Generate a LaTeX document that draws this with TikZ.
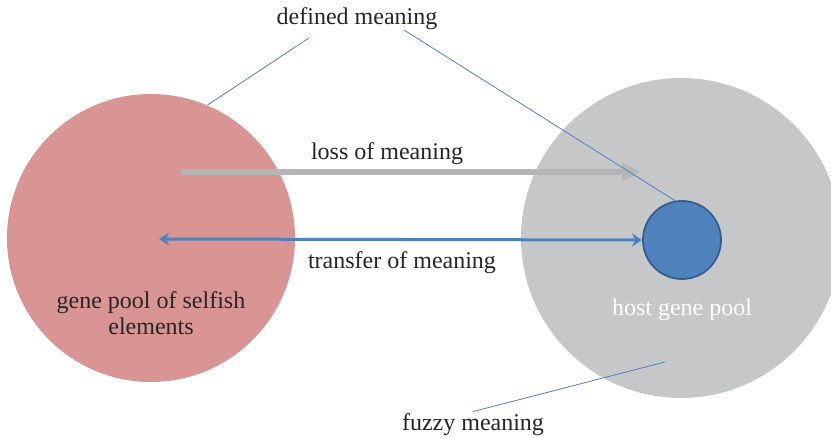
\documentclass[tikz,border=0pt]{standalone}
\usepackage{fontspec}
\setmainfont{Liberation Serif}
\usetikzlibrary{arrows.meta}
\usetikzlibrary{calc}
\definecolor{poolred}{HTML}{D99594}
\definecolor{poolgray}{HTML}{C6C7C9}
\definecolor{coreblue}{HTML}{4F81BD}
\definecolor{coreedge}{HTML}{385D8A}
\definecolor{lossgray}{HTML}{B4B5B7}
\definecolor{txt}{HTML}{262626}
\tikzset{
	pool/.style={circle, inner sep=0pt},
	lbl/.style={text=txt, font=\fontsize{12}{13}\selectfont, align=center, inner sep=1pt},
	pointer/.style={coreblue, line width=0.4pt}
}

\begin{document}
\begin{tikzpicture}[x=0.5pt, y=-0.5pt]
				\useasboundingbox (0,0) rectangle (831,438);
				\begin{scope}
					\clip (0,0) rectangle (831,438);
					\node [pool, fill=poolgray, minimum size=160pt] (host) at (681,238) {};
				\end{scope}
				\node [pool, fill=poolred, minimum size=144pt] (selfish) at (151,238) {};
				\node [pool, fill=coreblue, draw=coreedge, line width=0.9pt, minimum size=39pt] (core) at (682,240) {};
				% labels
				\node [lbl] (defined) at (357,19) {defined meaning};
				\node [lbl] (loss) at (387,154) {loss of meaning};
				\node [lbl] (transfer) at (402,263) {transfer of meaning};
				\node [lbl] (selfishtxt) at (151,313) {gene pool of selfish\\elements};
				\node [lbl, text=white] (hosttxt) at (682,310) {host gene pool};
				\node [lbl] (fuzzy) at (473,425) {fuzzy meaning};
				% arrows
				\coordinate (losstail) at (182,172);
				\coordinate (losshead) at (642,172);
				\coordinate (transfertip) at (159,239);
				\draw [lossgray, line width=3pt, -{Triangle[length=10pt, width=8.5pt]}] (losstail) -- (losshead);
				\draw [coreblue, line width=1.5pt, {Stealth[length=5pt, width=6.5pt, inset=1.5pt]}-{Stealth[length=5pt, width=6.5pt, inset=1.5pt]}] (transfertip) -- (core.west);
				% pointers
				\coordinate (dleft) at (309,38);
				\coordinate (dright) at (404,30);
				\coordinate (fuzzyend) at (665,362);
				\draw [pointer] (dleft) -- (selfish.67);
				\draw [pointer] (dright) -- (core.100);
				\draw [pointer] (fuzzy.north) -- (fuzzyend);
			\end{tikzpicture}
\end{document}
